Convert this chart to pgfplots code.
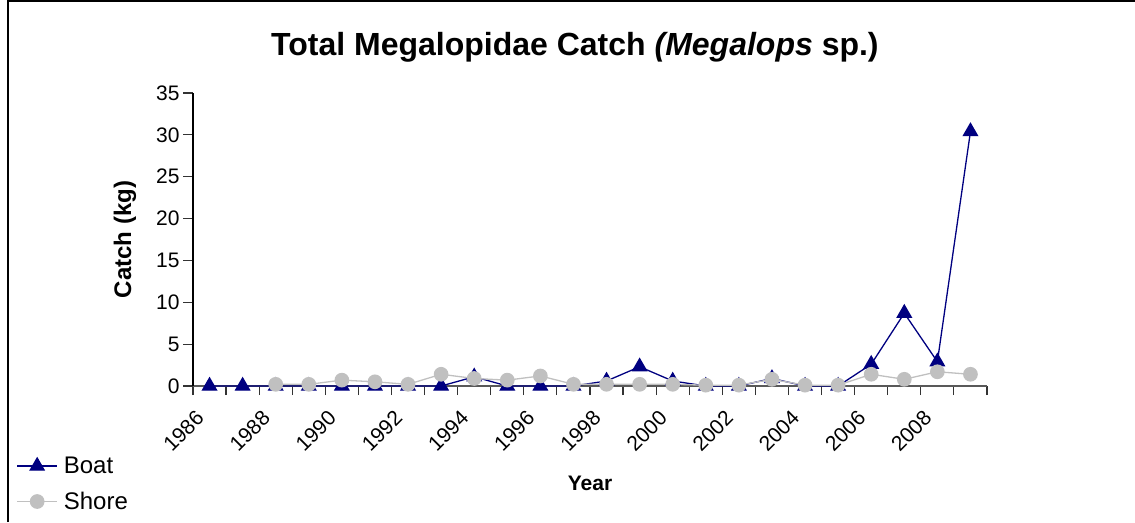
\documentclass[border=0pt]{standalone}
\usepackage{fontspec}
\setmainfont{Liberation Sans}
\usepackage{pgfplots}
\pgfplotsset{compat=1.18}
\definecolor{boat}{RGB}{0,0,128}
\definecolor{shore}{RGB}{192,192,192}

\begin{document}
\begin{tikzpicture}[x=1pt,y=1pt]
\useasboundingbox (0,0) rectangle (1135,522);
\draw[line width=2pt] (8,0) -- (8,521) -- (1135,521);
\begin{axis}[
  at={(193pt,136pt)}, anchor=south west,
  width=794pt, height=293pt, scale only axis,
  xmin=1985.5, xmax=2009.5, ymin=0, ymax=35,
  clip=false,
  axis x line*=bottom, axis y line*=left,
  axis line style={-, line width=1.2pt},
  x axis line style={draw=black!65},
  ytick={0,5,...,35},
  xtick={1986,1988,...,2008},
  xticklabels={1986,1988,1990,1992,1994,1996,1998,2000,2002,2004,2006,2008},
  minor xtick={1985.5,1986.5,...,2009.5},
  major x tick style={draw=none},
  tick align=outside,
  major tick length=10pt, minor tick length=9pt,
  tick style={line width=1.2pt, black!80},
  /pgf/number format/assume math mode=true,
  ticklabel style={font=\fontsize{21}{25}\selectfont},
  xticklabel style={xshift=-7pt, yshift=-16pt, rotate=45, anchor=east},
  title={\textbf{Total Megalopidae Catch \textit{(Megalops} sp.)}},
  title style={at={(axis description cs:0.481,1.135)}, anchor=center,
    font=\fontsize{32}{38}\selectfont},
  ylabel={\textbf{Catch (kg)}},
  ylabel style={at={(axis description cs:-0.0856,0.5)}, anchor=center, rotate=0,
    font=\fontsize{24}{28}\selectfont},
  xlabel={\textbf{Year}},
  xlabel style={at={(axis description cs:0.5,-0.331)}, anchor=center,
    font=\fontsize{21}{25}\selectfont},
  legend style={at={(axis description cs:-0.2225,-0.235)}, anchor=north west,
    draw=none, fill=none, inner sep=0pt, row sep=13pt,
    /tikz/every odd column/.append style={column sep=4pt},
    font=\fontsize{24}{28}\selectfont},
  legend cell align=left,
  legend image code/.code={\draw[mark repeat=2,mark phase=2,#1] plot coordinates {(0pt,0pt)(20pt,0pt)(40pt,0pt)};},
]
\addplot[boat, line width=1.3pt, mark=triangle*, mark size=8pt,
  mark options={fill=boat, draw=boat}] coordinates {
  (1986,0) (1987,0) (1988,0) (1989,0) (1990,0) (1991,0) (1992,0) (1993,0)
  (1994,1.1) (1995,0) (1996,0) (1997,0) (1998,0.6) (1999,2.3) (2000,0.6)
  (2001,0) (2002,0) (2003,0.9) (2004,0) (2005,0) (2006,2.6) (2007,8.7)
  (2008,2.9) (2009,30.4)};
\addlegendentry{Boat}
\addplot[shore, line width=1.3pt, mark=*, mark size=6.7pt,
  mark options={fill=shore, draw=shore}] coordinates {
  (1988,0.2) (1989,0.2) (1990,0.7) (1991,0.5) (1992,0.2) (1993,1.4)
  (1994,0.9) (1995,0.7) (1996,1.2) (1997,0.2) (1998,0.2) (1999,0.2)
  (2000,0.2) (2001,0.1) (2002,0.1) (2003,0.8) (2004,0.1) (2005,0.1)
  (2006,1.4) (2007,0.8) (2008,1.7) (2009,1.4)};
\addlegendentry{Shore}
\end{axis}
\end{tikzpicture}
\end{document}
